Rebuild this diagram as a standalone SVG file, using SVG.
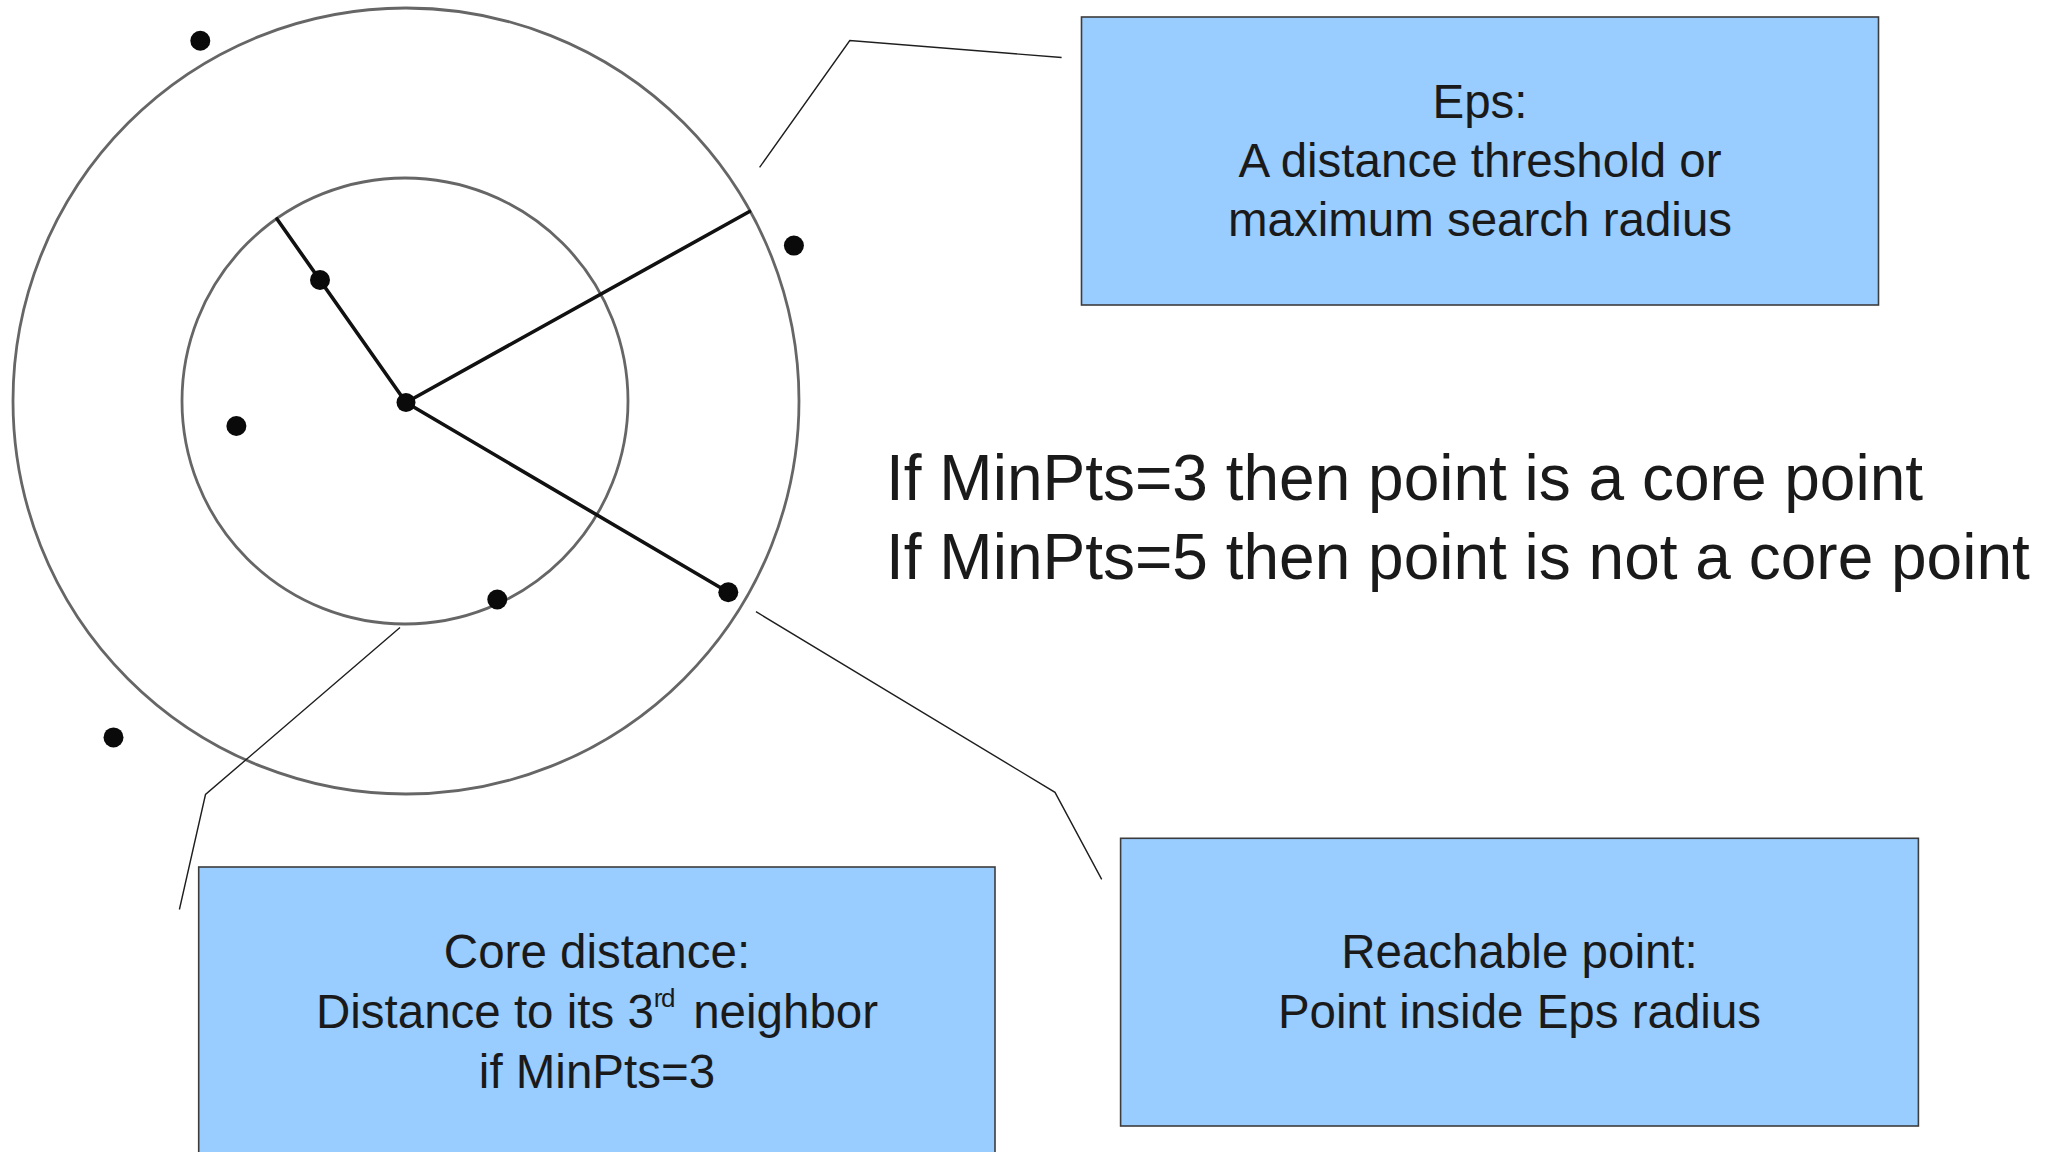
<svg xmlns="http://www.w3.org/2000/svg" width="2050" height="1152" viewBox="0 0 2050 1152">
  <style>
    .ring { fill: none; stroke: #666666; stroke-width: 2.8; }
    .radius { stroke: #111; stroke-width: 3.6; stroke-linecap: round; }
    .pt { fill: #0a0a0a; }
    .callout { fill: none; stroke: #1e1e1e; stroke-width: 1.4; }
    .box { fill: #99ccff; stroke: #3c3c3c; stroke-width: 1.6; }
    .label { font-family: "Liberation Sans", Arial, sans-serif; font-size: 47.5px; fill: #1a1a1a; text-anchor: middle; }
    .rule { font-family: "Liberation Sans", Arial, sans-serif; font-size: 64px; fill: #1a1a1a; }
  </style>
  <rect width="2050" height="1152" fill="#ffffff"/>

  <!-- neighbourhood around the point: Eps radius and core-distance circle -->
  <g id="neighbourhood">
    <circle class="ring" cx="406" cy="401" r="393"/>
    <circle class="ring" cx="405" cy="401" r="223"/>
    <line class="radius" x1="406" y1="402.5" x2="277" y2="219"/>
    <line class="radius" x1="406" y1="402.5" x2="749.5" y2="211.5"/>
    <line class="radius" x1="406" y1="402.5" x2="728.3" y2="592.3"/>
  </g>

  <!-- data points -->
  <g id="points">
    <circle class="pt" cx="406" cy="402.5" r="9.5"/>
    <circle class="pt" cx="200.3" cy="40.8" r="10"/>
    <circle class="pt" cx="793.9" cy="245.6" r="10"/>
    <circle class="pt" cx="320" cy="280" r="10"/>
    <circle class="pt" cx="236.4" cy="426" r="10"/>
    <circle class="pt" cx="497.3" cy="599.5" r="10"/>
    <circle class="pt" cx="728.3" cy="592.3" r="10"/>
    <circle class="pt" cx="113.5" cy="737.4" r="10"/>
  </g>

  <!-- leader lines from the figure to the labels -->
  <g id="connectors">
    <polyline class="callout" points="759.6,167.3 849.8,40.5 1061.6,57.5"/>
    <polyline class="callout" points="400,627.5 205.5,794.5 179.4,909.5"/>
    <polyline class="callout" points="756,611.7 1055,792.3 1101.7,879.3"/>
  </g>

  <g id="eps-box">
    <rect class="box" x="1081.5" y="17" width="797" height="288"/>
    <text class="label" x="1480" y="118.3">Eps:</text>
    <text class="label" x="1480" y="177.3">A distance threshold or</text>
    <text class="label" x="1480" y="235.7">maximum search radius</text>
  </g>

  <g id="core-distance-box">
    <rect class="box" x="198.7" y="867" width="796.3" height="300"/>
    <text class="label" x="597" y="1028.3" style="white-space:pre">Distance to its 3<tspan font-size="26" dy="-21" letter-spacing="-1.5">rd</tspan><tspan dy="21" dx="6"> neighbor</tspan></text>
    <text class="label" x="597" y="968.3">Core distance:</text>
    <text class="label" x="597" y="1088.3">if MinPts=3</text>
  </g>

  <g id="reachable-box">
    <rect class="box" x="1120.6" y="838.3" width="797.8" height="287.7"/>
    <text class="label" x="1519.5" y="968.3">Reachable point:</text>
    <text class="label" x="1519.5" y="1027.7">Point inside Eps radius</text>
  </g>

  <g id="minpts-rule">
    <text class="rule" x="886" y="500">If MinPts=3 then point is a core point</text>
    <text class="rule" x="886" y="579.3">If MinPts=5 then point is not a core point</text>
  </g>
</svg>
